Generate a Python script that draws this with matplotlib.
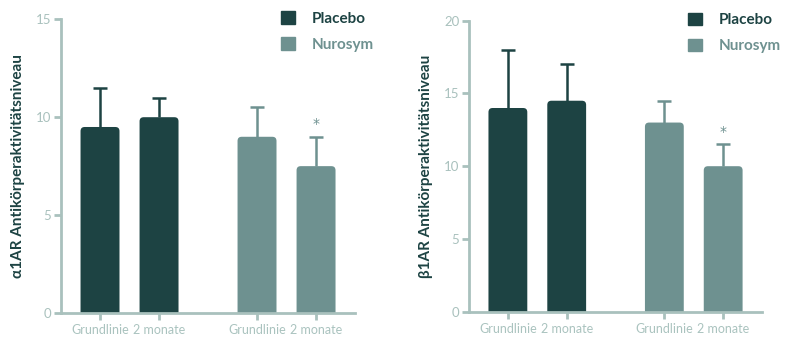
import numpy as np
import matplotlib.pyplot as plt
from matplotlib.patches import Patch, FancyBboxPatch

plt.rcParams['font.family'] = ['Lato', 'DejaVu Sans']

# data
tick_labels = ['Grundlinie', '2 monate', 'Grundlinie', '2 monate']
groups = ['Placebo', 'Nurosym']
alpha_vals = [9.5, 10.0, 9.0, 7.5]
alpha_err = [2.0, 1.0, 1.5, 1.5]
beta_vals = [14.0, 14.5, 13.0, 10.0]
beta_err = [4.0, 2.5, 1.5, 1.5]
signif = [False, False, False, True]

dark = '#1d4343'
light = '#6e9190'
axcol = '#a9c1bd'
bar_colors = [dark, dark, light, light]
xpos = np.array([1.0, 2.0, 3.66, 4.66])

fig = plt.figure(figsize=(8, 3.51), dpi=100)
ax1 = fig.add_axes([0.07625, 0.1083, 0.3675, 0.8367])
ax2 = fig.add_axes([0.58625, 0.112, 0.36625, 0.829])


def draw(ax, vals, errs, ymax, ystep, ylabel):
    ax.set_xlim(0.339, 5.32)
    ax.set_ylim(0, ymax)
    # data units per pixel ratio for rounding the bar tops
    bb = ax.get_position()
    px_x = bb.width * 800 / (5.32 - 0.339)
    px_y = bb.height * 351 / ymax
    aspect = px_x / px_y
    bars = ax.bar(xpos, vals, width=0.66, color=bar_colors, zorder=2)
    r = 0.07
    for b in bars:
        x0, y0, w, h = b.get_x(), b.get_y(), b.get_width(), b.get_height()
        b.remove()
        ax.add_patch(FancyBboxPatch((x0, y0 - 1), w, h + 1,
                                    boxstyle=f'round,pad=0,rounding_size={r}',
                                    mutation_aspect=aspect, fc=b.get_facecolor(),
                                    ec='none', zorder=2, clip_on=True))
    for x, v, e, c, s in zip(xpos, vals, errs, bar_colors, signif):
        ax.errorbar(x, v, yerr=[[0], [e]], color=c, elinewidth=1.8,
                    capsize=0, zorder=1)
        ax.plot(x, v + e, marker='_', markersize=10, mew=1.8, color=c, zorder=1)
        if s:
            ax.annotate('*', (x, v + e), xytext=(0, 4), textcoords='offset points',
                        ha='center', va='bottom', color=light, fontsize=10,
                        family='DejaVu Sans')
    ax.set_yticks(np.arange(0, ymax + 1, ystep))
    ax.set_xticks(xpos)
    ax.set_xticklabels(tick_labels)
    for sp in ['top', 'right']:
        ax.spines[sp].set_visible(False)
    for sp in ['left', 'bottom']:
        ax.spines[sp].set_color(axcol)
        ax.spines[sp].set_linewidth(2)
    ax.tick_params(colors=axcol, width=2, length=5, labelsize=9.5, pad=2)
    ax.tick_params(axis='x', labelcolor='#aac3bf', labelsize=9, pad=3)
    ax.set_ylabel(ylabel, fontsize=11, fontweight='bold', color=dark, labelpad=8)
    handles = [Patch(color=dark), Patch(color=light)]
    leg = ax.legend(handles, groups, loc='upper right', bbox_to_anchor=(1.11, 1.075),
                    frameon=False, handlelength=0.9, handleheight=0.9,
                    handletextpad=1.1, labelspacing=0.75,
                    prop={'weight': 'bold', 'size': 11})
    for t, c in zip(leg.get_texts(), [dark, light]):
        t.set_color(c)


draw(ax1, alpha_vals, alpha_err, 15, 5, 'α1AR Antikörperaktivitätsniveau')
draw(ax2, beta_vals, beta_err, 20, 5, 'β1AR Antikörperaktivitätsniveau')

fig.savefig('out.png', dpi=100)
